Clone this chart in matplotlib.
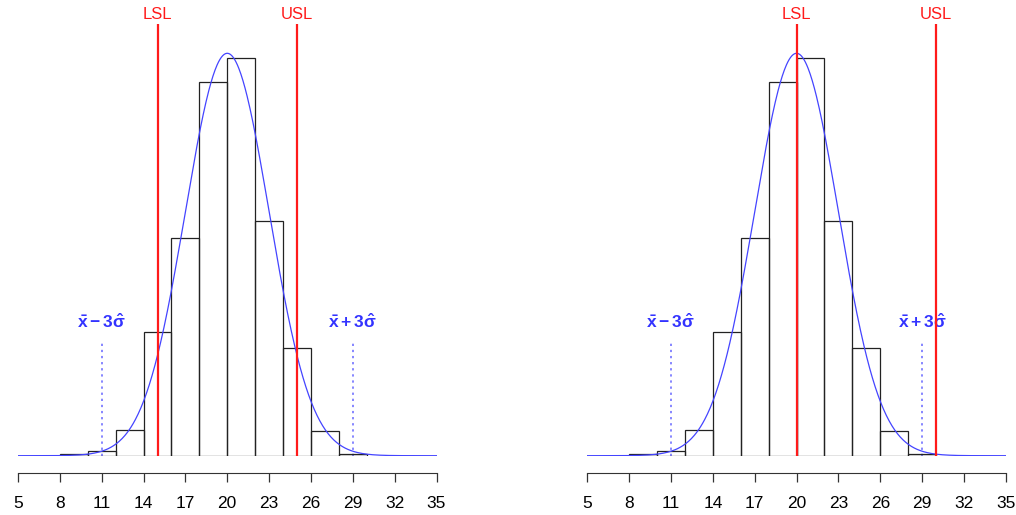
import numpy as np
import matplotlib
matplotlib.use('Agg')
import matplotlib.pyplot as plt

plt.rcParams['font.family'] = ['Liberation Sans', 'DejaVu Sans']
plt.rcParams['mathtext.fontset'] = 'custom'
plt.rcParams['mathtext.rm'] = 'Liberation Sans:bold'
plt.rcParams['mathtext.it'] = 'Liberation Sans:bold'
plt.rcParams['mathtext.bf'] = 'Liberation Sans:bold'

# histogram (counts per bin of width 2)
bin_edges = [8, 10, 12, 14, 16, 18, 20, 22, 24, 26, 28, 30]
counts = [1, 3, 17, 82, 144, 247, 263, 155, 71, 16, 1]
mu = 20
sigma = 3
spec_limits = [(15, 25), (20, 30)]
xticks = [5, 8, 11, 14, 17, 20, 23, 26, 29, 32, 35]

n = sum(counts)
edges = np.array(bin_edges, dtype=float)
widths = np.diff(edges)
dens = np.array(counts) / (n * widths)

xs = np.linspace(5, 35, 600)
pdf = np.exp(-0.5 * ((xs - mu) / sigma) ** 2) / (sigma * np.sqrt(2 * np.pi))
ymax = pdf.max() * (455.7 - 24) / 402.4

fig = plt.figure(figsize=(10.16, 5.15), dpi=100)
W, H = 1016, 515
lefts = [18, 587.3]
for (lsl, usl), left in zip(spec_limits, lefts):
    ax = fig.add_axes([left / W, (H - 455.7) / H, 418.5 / W, (455.7 - 24) / H])
    ax.set_xlim(5, 35)
    ax.set_ylim(0, ymax)
    ax.bar(edges[:-1], dens, width=widths, align='edge', facecolor='none',
           edgecolor='#222222', linewidth=0.9, zorder=2)
    ax.plot(xs, pdf, color='#4444ff', lw=0.9, zorder=3)
    lo, hi = mu - 3 * sigma, mu + 3 * sigma
    ytop = 0.0379
    ax.plot([lo, lo], [0, ytop], color='#6666ff', lw=1.1, ls=(0, (1.5, 2.5)), zorder=1)
    ax.plot([hi, hi], [0, ytop], color='#6666ff', lw=1.1, ls=(0, (1.5, 2.5)), zorder=1)
    ax.text(lo, 0.0441, r'$\bar{\mathrm{x}} - 3\hat{\sigma}$', color='#3333ff',
            ha='center', va='center', fontsize=12.5)
    ax.text(hi, 0.0441, r'$\bar{\mathrm{x}} + 3\hat{\sigma}$', color='#3333ff',
            ha='center', va='center', fontsize=12.5)
    for v, lab in [(lsl, 'LSL'), (usl, 'USL')]:
        ax.plot([v, v], [0, ymax], color='#ff1a1a', lw=1.6, zorder=4)
        ax.text(v, ymax * 1.005, lab, color='#ff1a1a', ha='center', va='bottom',
                fontsize=12)
    for s in ['top', 'right', 'left']:
        ax.spines[s].set_visible(False)
    ax.spines['bottom'].set_position(('outward', 12.7))
    ax.spines['bottom'].set_color('#333333')
    ax.set_yticks([])
    ax.set_xticks(xticks)
    ax.tick_params(axis='x', length=6.5, width=0.9, color='#333333',
                   pad=10, labelsize=12.5)
    for t in ax.texts:
        t.set_clip_on(False)

fig.savefig('out.png', dpi=100)
